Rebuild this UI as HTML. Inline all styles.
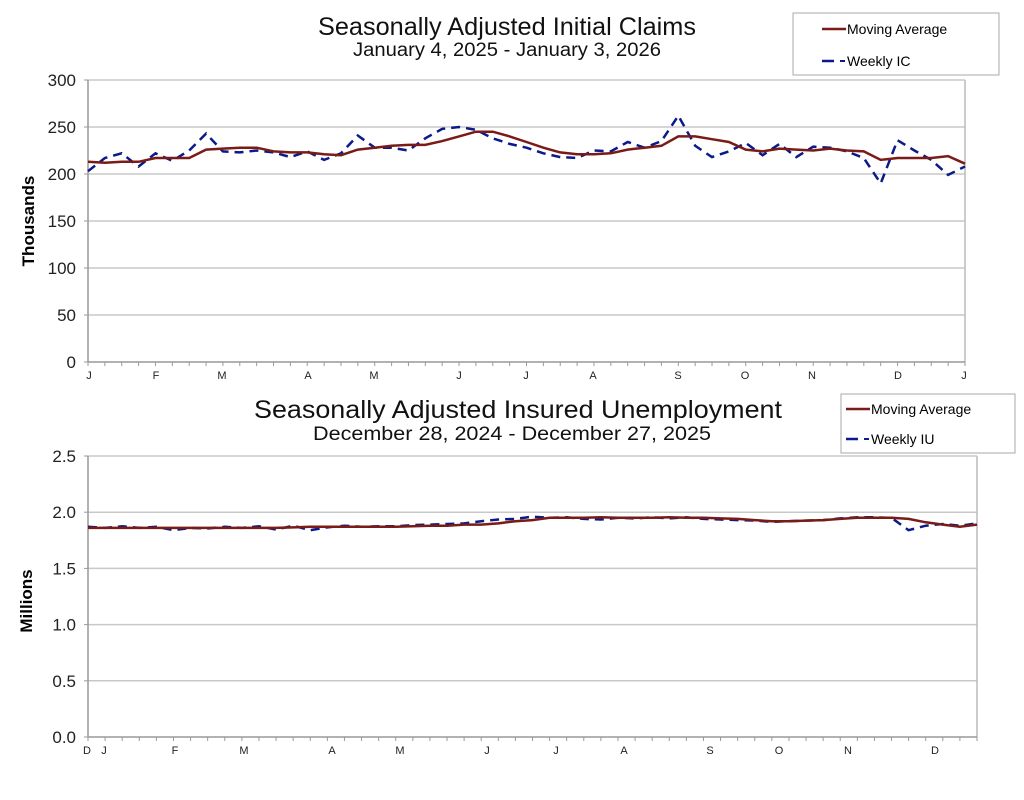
<!DOCTYPE html>
<html><head><meta charset="utf-8"><style>
html,body{margin:0;padding:0;background:#fff;}
svg{display:block;font-family:"Liberation Sans",sans-serif;}
</style></head><body>
<svg id="s" width="1024" height="800" viewBox="0 0 1024 800" xmlns="http://www.w3.org/2000/svg">
<rect width="1024" height="800" fill="#fff"/>
<g id="g"></g>
<text x="507" y="35" text-anchor="middle" font-size="25" fill="#111" textLength="378" lengthAdjust="spacingAndGlyphs">Seasonally Adjusted Initial Claims</text>
<text x="507" y="56" text-anchor="middle" font-size="19" fill="#111" textLength="308" lengthAdjust="spacingAndGlyphs">January 4, 2025 - January 3, 2026</text>
<text x="34" y="221" text-anchor="middle" font-size="17" font-weight="bold" transform="rotate(-90 34 221)">Thousands</text>
<rect x="793" y="13" width="206" height="62" fill="#fff" stroke="#aaa" stroke-width="1"/>
<line x1="822" y1="29" x2="846" y2="29" stroke="#7a1b16" stroke-width="2.5"/>
<text x="847" y="34" font-size="14">Moving Average</text>
<line x1="822" y1="61" x2="834" y2="61" stroke="#0a1a8a" stroke-width="2.5"/>
<line x1="840" y1="61" x2="845" y2="61" stroke="#0a1a8a" stroke-width="2"/>
<text x="847" y="66" font-size="14">Weekly IC</text>

<text x="518" y="418" text-anchor="middle" font-size="25" fill="#111" textLength="528" lengthAdjust="spacingAndGlyphs">Seasonally Adjusted Insured Unemployment</text>
<text x="512" y="440" text-anchor="middle" font-size="19" fill="#111" textLength="398" lengthAdjust="spacingAndGlyphs">December 28, 2024 - December 27, 2025</text>
<text x="32" y="601" text-anchor="middle" font-size="17" font-weight="bold" transform="rotate(-90 32 601)">Millions</text>
<rect x="841" y="394" width="174" height="59" fill="#fff" stroke="#aaa" stroke-width="1"/>
<line x1="846" y1="409" x2="870" y2="409" stroke="#7a1b16" stroke-width="2.5"/>
<text x="871" y="414" font-size="14">Moving Average</text>
<line x1="846" y1="439" x2="858" y2="439" stroke="#0a1a8a" stroke-width="2.5"/>
<line x1="864" y1="439" x2="869" y2="439" stroke="#0a1a8a" stroke-width="2"/>
<text x="871" y="444" font-size="14">Weekly IU</text>
</svg>
<script>
var NS="http://www.w3.org/2000/svg",g=document.getElementById("g");
function el(t,a,txt){var e=document.createElementNS(NS,t);for(var k in a)e.setAttribute(k,a[k]);if(txt!=null)e.textContent=txt;g.appendChild(e);return e;}
function chart(o){
 var x0=o.x0,x1=o.x1,y0=o.y0,y1=o.y1;
 o.yt.forEach(function(v,i){var y=y1-(v-o.ymin)/(o.ymax-o.ymin)*(y1-y0);
  if(i>0)el("line",{x1:x0,y1:y,x2:x1,y2:y,stroke:"#c8c8c8","stroke-width":1.5});
  el("text",{x:x0-12,y:y+6,"text-anchor":"end","font-size":17,fill:"#222"},o.lab[i]);
  el("line",{x1:x0-4,y1:y,x2:x0,y2:y,stroke:"#999"});});
 el("line",{x1:x0,y1:y0,x2:x0,y2:y1,stroke:"#999","stroke-width":1.5});
 el("line",{x1:x1,y1:y0,x2:x1,y2:y1,stroke:"#bbb","stroke-width":1.5});
 el("line",{x1:x0,y1:y1,x2:x1,y2:y1,stroke:"#999","stroke-width":1.5});
 var n=o.nt;for(var i=0;i<=n;i++){var x=x0+(x1-x0)*i/n;el("line",{x1:x,y1:y1,x2:x,y2:y1+4,stroke:"#999"});}
 o.mx.forEach(function(m){el("text",{x:m[1],y:y1+17,"text-anchor":"middle","font-size":11,fill:"#222"},m[0]);});
 function pts(d){var s=[];var N=d.length-1;d.forEach(function(v,i){s.push((x0+(o.px1-x0)*i/N).toFixed(1)+","+(y1-(v-o.ymin)/(o.ymax-o.ymin)*(y1-y0)).toFixed(1));});return s.join(" ");}
 el("polyline",{points:pts(o.w),fill:"none",stroke:"#0a1a8a","stroke-width":2.5,"stroke-dasharray":"9,6"});
 el("polyline",{points:pts(o.m),fill:"none",stroke:"#7a1b16","stroke-width":2.5});
}
chart({x0:88,x1:965,px1:965,y0:80,y1:362,ymin:0,ymax:300,yt:[0,50,100,150,200,250,300],lab:["0","50","100","150","200","250","300"],nt:52,
mx:[["J",89],["F",156],["M",222],["A",308],["M",374],["J",459],["J",526],["A",593],["S",678],["O",745],["N",812],["D",898],["J",964]],
m:[213,212,213,213,217,217,217,226,227,228,228,224,223,223,221,220,226,228,230,231,231,235,240,245,245,240,234,228,223,221,221,222,226,228,230,240,240,237,234,226,224,227,226,225,227,225,224,215,217,217,217,219,211],
w:[203,217,222,208,222,214,225,243,224,223,225,223,218,224,215,222,241,228,228,225,238,248,250,247,238,232,228,222,218,217,225,224,234,228,235,262,230,218,224,233,220,232,218,229,228,224,217,190,236,225,215,199,208]});
chart({x0:88,x1:977,px1:977,y0:456,y1:737,ymin:0,ymax:2.5,yt:[0,0.5,1,1.5,2,2.5],lab:["0.0","0.5","1.0","1.5","2.0","2.5"],nt:52,
mx:[["D",87],["J",104],["F",175],["M",244],["A",332],["M",400],["J",487],["J",556],["A",624],["S",710],["O",779],["N",848],["D",935]],
m:[1.86,1.86,1.86,1.86,1.86,1.86,1.86,1.86,1.86,1.86,1.86,1.86,1.865,1.87,1.87,1.87,1.87,1.87,1.87,1.875,1.88,1.88,1.89,1.89,1.9,1.92,1.93,1.95,1.95,1.95,1.955,1.95,1.95,1.95,1.955,1.95,1.95,1.945,1.94,1.93,1.92,1.92,1.925,1.93,1.94,1.95,1.95,1.95,1.94,1.91,1.89,1.87,1.89],
w:[1.87,1.86,1.875,1.86,1.87,1.84,1.86,1.855,1.87,1.86,1.875,1.845,1.88,1.84,1.865,1.88,1.87,1.875,1.875,1.885,1.89,1.895,1.90,1.92,1.935,1.94,1.96,1.95,1.955,1.94,1.935,1.95,1.945,1.955,1.945,1.955,1.94,1.935,1.93,1.925,1.915,1.92,1.925,1.93,1.945,1.955,1.955,1.95,1.84,1.88,1.895,1.88,1.90]});
</script>
</body></html>
